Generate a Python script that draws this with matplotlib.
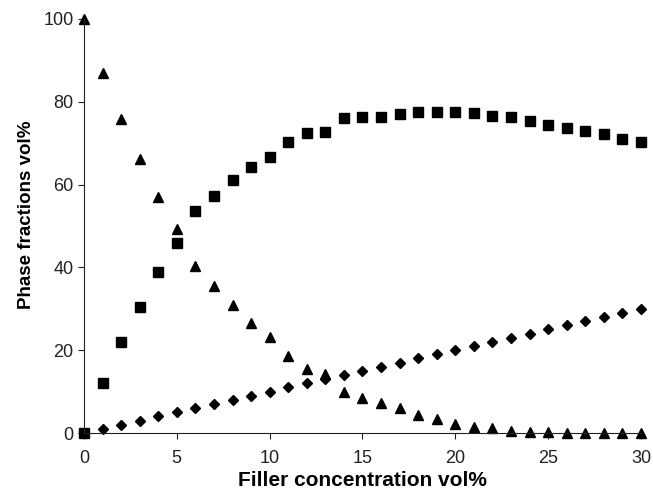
import matplotlib.pyplot as plt

plt.rcParams['font.family'] = ['Liberation Sans', 'DejaVu Sans']

# filler concentration (vol%)
conc = list(range(0, 31))

# phase fractions (vol%)
squares = [0, 12.0, 21.9, 30.5, 38.8, 46.0, 53.7, 57.3, 61.0, 64.2, 66.7,
           70.4, 72.4, 72.8, 76.0, 76.4, 76.4, 77.1, 77.5, 77.6, 77.6,
           77.4, 76.6, 76.4, 75.4, 74.4, 73.7, 73.0, 72.1, 71.1, 70.2]
triangles = [100, 86.9, 75.8, 66.3, 57.1, 49.3, 40.3, 35.5, 30.9, 26.5, 23.1,
             18.6, 15.5, 14.3, 10.0, 8.4, 7.2, 6.0, 4.3, 3.3, 2.2,
             1.4, 1.1, 0.5, 0.3, 0.2, 0, 0, 0, 0, 0]
diamonds = [0, 1, 2, 3, 4, 5, 6, 7, 8, 9, 10, 11, 12, 13, 14, 15, 16, 17, 18,
            19, 20, 21, 22, 23, 24, 25, 26, 27, 28, 29, 30]

fig = plt.figure(figsize=(6.53, 4.93), dpi=100)
ax = fig.add_axes([0.1286, 0.1217, 0.853, 0.8398])

ax.plot(conc, squares, 's', color='black', markersize=6.5, clip_on=False)
ax.plot(conc, triangles, '^', color='black', markersize=7, clip_on=False)
ax.plot(conc, diamonds, 'D', color='black', markersize=5, clip_on=False)

ax.set_xlim(0, 30)
ax.set_ylim(0, 100)
ax.set_xticks(range(0, 31, 5))
ax.set_yticks(range(0, 101, 20))
ax.spines['top'].set_visible(False)
ax.spines['right'].set_visible(False)
for s in ['left', 'bottom']:
    ax.spines[s].set_color('#222222')
ax.tick_params(direction='out', length=4, labelsize=13, colors='#222222')
ax.tick_params(axis='x', pad=8)

ax.set_xlabel('Filler concentration vol%', fontsize=15, fontweight='bold', labelpad=3)
ax.set_ylabel('Phase fractions vol%', fontsize=13.5, fontweight='bold')
ax.yaxis.set_label_coords(-0.088, 0.527)

plt.savefig('out.png', dpi=100)
